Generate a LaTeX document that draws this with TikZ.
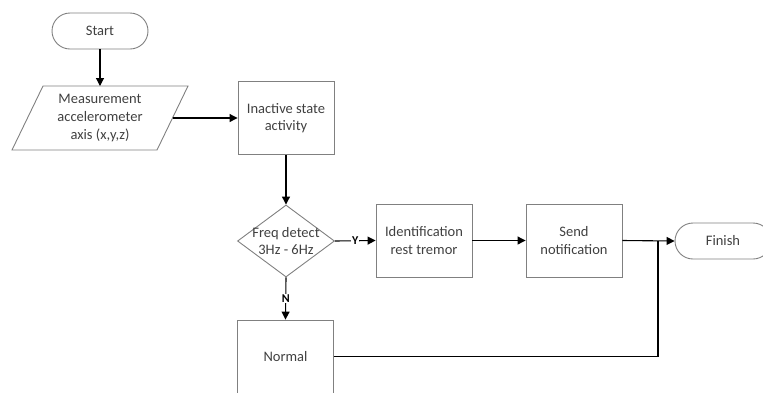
\documentclass[tikz,border=0pt]{standalone}
\usepackage{fontspec}
\setmainfont{Carlito}
\usetikzlibrary{shapes.geometric,arrows.meta}
\definecolor{boxline}{HTML}{808080}
\definecolor{txtcol}{HTML}{404040}
\begin{document}
\begin{tikzpicture}[x=1pt,y=-1pt,
  every node/.style={font=\fontsize{14.5}{17.7}\selectfont, text=txtcol, align=center},
  procbox/.style={draw=boxline, line width=0.9pt, rectangle, minimum width=96pt, minimum height=73pt, inner sep=0pt},
  termbox/.style={draw=boxline, line width=0.9pt, rectangle, rounded corners=18pt, minimum width=96pt, minimum height=36pt, inner sep=0pt},
  decbox/.style={draw=boxline, line width=0.9pt, diamond, minimum width=97pt, minimum height=72pt, inner sep=0pt},
  conn/.style={draw=black, line width=1.1pt, -{Triangle[length=8pt,width=8pt]}},
  plainconn/.style={draw=black, line width=1.1pt},
  yn/.style={font=\bfseries\fontsize{12}{14}\selectfont, text=black, fill=white, inner sep=1pt}
]
\useasboundingbox (0,0) rectangle (763,392);

\node[termbox] (start) at (100,31) {Start};
\draw[boxline, line width=0.9pt] (43,86) -- (188,86) -- (157,150) -- (12,150) -- cycle;
\node (meas) at (100,118) {Measurement\\accelerometer\\axis (x,y,z)};
\coordinate (measN) at (100,86);
\coordinate (measE) at (172.5,118);
\node[procbox] (inact) at (286,118) {Inactive state\\activity};
\node[decbox] (freq) at (286,241) {};
\node at (freq) {Freq detect\\3Hz - 6Hz};
\node[procbox] (ident) at (424,240.5) {Identification\\rest tremor};
\node[procbox] (send) at (574,240.5) {Send\\notification};
\node[termbox] (finish) at (723,241) {Finish};
\node[procbox] (normal) at (285.5,356.5) {Normal};
\coordinate (junc) at (658,241);

\draw[conn] (start.south) -- (measN);
\draw[conn] (measE) -- (inact.west);
\draw[conn] (inact.south) -- (freq.north);
\draw[conn] (freq.east) -- node[yn, pos=0.5] {Y} (ident.west);
\draw[conn] (freq.south) -- node[yn, pos=0.5] {N} (normal.north);
\draw[conn] (ident.east) -- (send.west);
\draw[conn] (send.east) -- (finish.west);
\draw[plainconn] (normal.east) -| (junc);
\end{tikzpicture}
\end{document}
